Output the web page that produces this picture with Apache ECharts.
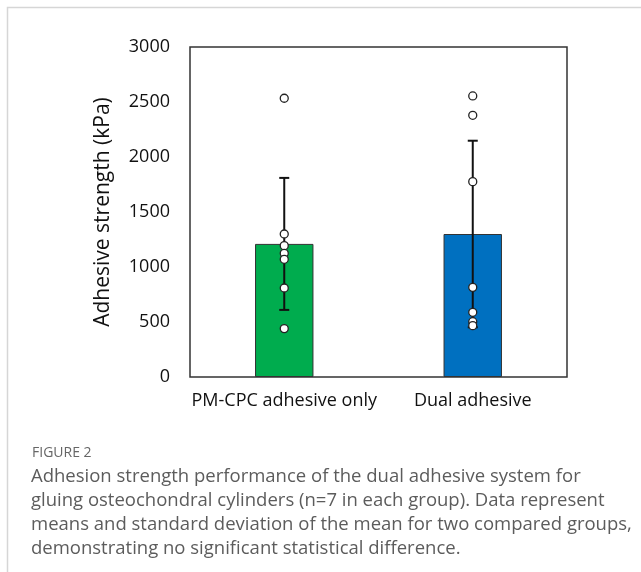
<!DOCTYPE html>
<html>
<head>
<meta charset="utf-8">
<script src="https://cdn.jsdelivr.net/npm/echarts@6/dist/echarts.min.js"></script>
<style>
  html, body { margin: 0; padding: 0; background: #fff; }
  #chart { width: 641px; height: 572px; }
</style>
</head>
<body>
<div id="chart"></div>
<script>
const categories = ['PM-CPC adhesive only', 'Dual adhesive']
const means = [1210, 1300]
const sds = [600, 848]
const barColors = ['#00ac4e', '#0070c0']
// individual samples (n=7 per group)
const pmCpcPoints = [2534, 1300, 1194, 1124, 1070, 809, 440]
const dualPoints = [2555, 2379, 1776, 815, 588, 503, 467]
const yTicks = [0, 3000, 500]

const chart = echarts.init(document.getElementById('chart'))

const points = []
pmCpcPoints.forEach(v => points.push([0, v]))
dualPoints.forEach(v => points.push([1, v]))

chart.setOption({
  animation: false,
  textStyle: { fontFamily: 'Open Sans' },
  grid: {
    left: 190,
    right: 74,
    top: 47,
    bottom: 195,
    show: true,
    borderColor: '#333',
    borderWidth: 1.5
  },
  graphic: [
    {
      type: 'polyline',
      shape: { points: [[7.5, 572], [7.5, 7.5], [641, 7.5]] },
      style: { stroke: '#d6d6d6', lineWidth: 1.5, fill: null }
    },
    {
      type: 'text',
      left: 32,
      top: 446,
      style: { text: 'FIGURE 2', fill: '#666', font: '14px "Open Sans"' }
    },
    {
      type: 'text',
      left: 31,
      top: 465,
      style: {
        text: 'Adhesion strength performance of the dual adhesive system for\n' +
          'gluing osteochondral cylinders (n=7 in each group). Data represent\n' +
          'means and standard deviation of the mean for two compared groups,\n' +
          'demonstrating no significant statistical difference.',
        fill: '#5c5c5c',
        font: '18.5px "Open Sans"',
        lineHeight: 23.8
      }
    }
  ],
  xAxis: {
    type: 'category',
    data: categories,
    axisLine: { show: false },
    axisTick: { show: false },
    axisLabel: { color: '#111', fontSize: 18, margin: 15, interval: 0 }
  },
  yAxis: {
    type: 'value',
    min: yTicks[0],
    max: yTicks[1],
    interval: yTicks[2],
    name: 'Adhesive strength (kPa)',
    nameLocation: 'middle',
    nameGap: 76,
    nameTextStyle: { color: '#111', fontSize: 21 },
    axisLine: { show: false },
    axisTick: { show: false },
    splitLine: { show: false },
    axisLabel: { color: '#111', fontSize: 18, margin: 20, formatter: v => String(v) }
  },
  series: [
    {
      type: 'bar',
      barWidth: '31%',
      data: means.map((v, i) => ({
        value: v,
        itemStyle: { color: barColors[i], borderColor: '#333', borderWidth: 1 }
      })),
      z: 1
    },
    {
      type: 'custom',
      data: means.map((m, i) => [i, m - sds[i], m + sds[i]]),
      renderItem: function(params, api) {
        const lo = api.coord([api.value(0), api.value(1)])
        const hi = api.coord([api.value(0), api.value(2)])
        const w = 5
        const s = { stroke: '#111', lineWidth: 2 }
        return {
          type: 'group',
          children: [
            { type: 'line', shape: { x1: lo[0], y1: lo[1], x2: hi[0], y2: hi[1] }, style: s },
            { type: 'line', shape: { x1: lo[0] - w, y1: lo[1], x2: lo[0] + w, y2: lo[1] }, style: s },
            { type: 'line', shape: { x1: hi[0] - w, y1: hi[1], x2: hi[0] + w, y2: hi[1] }, style: s }
          ]
        }
      },
      z: 2
    },
    {
      type: 'scatter',
      data: points,
      symbol: 'circle',
      symbolSize: 8,
      itemStyle: { color: '#fff', borderColor: '#222', borderWidth: 1.3, opacity: 1 },
      z: 3
    }
  ]
})
</script>
</body>
</html>
